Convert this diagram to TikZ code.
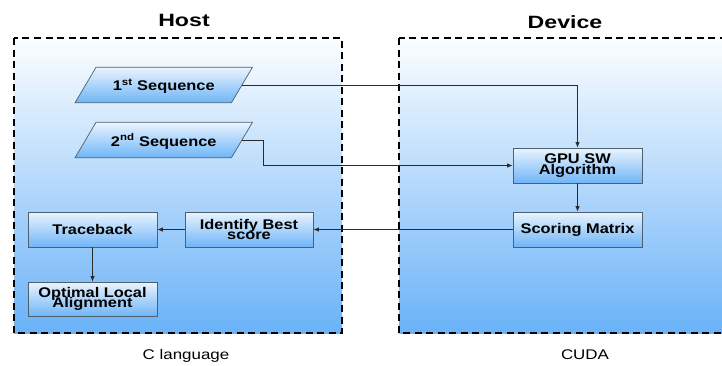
\documentclass[tikz,border=0pt]{standalone}
\usepackage{fontspec}
\setmainfont[FakeStretch=1.17]{Liberation Sans}
\newfontfamily\capfont[FakeStretch=1.21]{Liberation Sans}
\newfontfamily\headfont[FakeStretch=1.3]{Liberation Sans}
\usetikzlibrary{arrows.meta,backgrounds}
\newcommand\tightlines{\lineskiplimit=-20pt\relax\lineskip=0pt\relax}
\definecolor{edgegray}{HTML}{4F5F6E}
\definecolor{linegray}{HTML}{2B2B2B}
\definecolor{boxtop}{HTML}{EAF4FE}
\definecolor{boxbot}{HTML}{6FB5F7}
\definecolor{areatop}{HTML}{FCFEFF}
\definecolor{areabot}{HTML}{6AB2F8}
\tikzset{
  procbox/.style={draw=edgegray, line width=0.7pt, top color=boxtop, bottom color=boxbot,
    minimum width=129pt, minimum height=35pt, inner sep=1pt, align=center,
    font=\fontsize{14}{10.5}\selectfont\bfseries\tightlines},
  seqtext/.style={minimum width=156pt, minimum height=35pt, inner sep=0pt, text depth=0pt,
    font=\fontsize{14}{12}\selectfont\bfseries},
  seqshape/.style={draw=edgegray, line width=0.7pt, top color=boxtop, bottom color=boxbot},
  area/.style={draw=black, line width=1.6pt, dash pattern=on 7pt off 4.5pt,
    top color=areatop, bottom color=areabot},
  title/.style={font=\headfont\fontsize{17.8}{20}\selectfont\bfseries},
  caption/.style={font=\capfont\fontsize{14}{16}\selectfont},
  flow/.style={draw=linegray, line width=0.9pt, -{Latex[length=5.5pt,width=4.5pt]}},
}
\begin{document}
\begin{tikzpicture}[x=1pt,y=-1pt]
\useasboundingbox (0,0) rectangle (722,365);
\clip (0,0) rectangle (722,365);

% labels above and below the two regions
\node[title] (hosttitle) at (184,20) {Host};
\node[title] (devtitle) at (565,22) {Device};
\node[caption] (clang) at (186,356) {C language};
\node[caption] (cuda) at (585,355) {CUDA};

% input sequences (text nodes; their slanted outlines go on the background layer)
\node[seqtext] (s1) at (163.75,85) {1\textsuperscript{st} Sequence};
\node[seqtext] (s2) at (163.75,140) {2\textsuperscript{nd} Sequence};

% processing steps
\node[procbox] (gpu) at (577.5,165.5) {GPU SW\\Algorithm};
\node[procbox] (score) at (577.5,229.5) {Scoring Matrix};
\node[procbox, minimum width=128pt] (ident) at (249,229.5) {Identify Best\\score};
\node[procbox] (trace) at (92.5,229.5) {Traceback};
\node[procbox, minimum height=34pt] (opt) at (92.5,299) {Optimal Local\\Alignment};

\begin{scope}[on background layer]
  \path[area] (14,38) rectangle (342,333);
  \path[area] (399,38) rectangle (745,333);
  \foreach \s in {s1,s2}{
    \path[seqshape] ([xshift=-10.5pt]\s.south west) -- ([xshift=10.5pt]\s.north west)
      -- ([xshift=10.5pt]\s.north east) -- ([xshift=-10.5pt]\s.south east) -- cycle;
  }
\end{scope}

% connectors
\draw[flow] (s1.east) -| (gpu.north);
\draw[flow] (s2.east) -- ++(21.5,0) |- (gpu.west);
\draw[flow] (gpu.south) -- (score.north);
\draw[flow] (score.west) -- (ident.east);
\draw[flow] (ident.west) -- (trace.east);
\draw[flow] (trace.south) -- (opt.north);
\end{tikzpicture}
\end{document}
